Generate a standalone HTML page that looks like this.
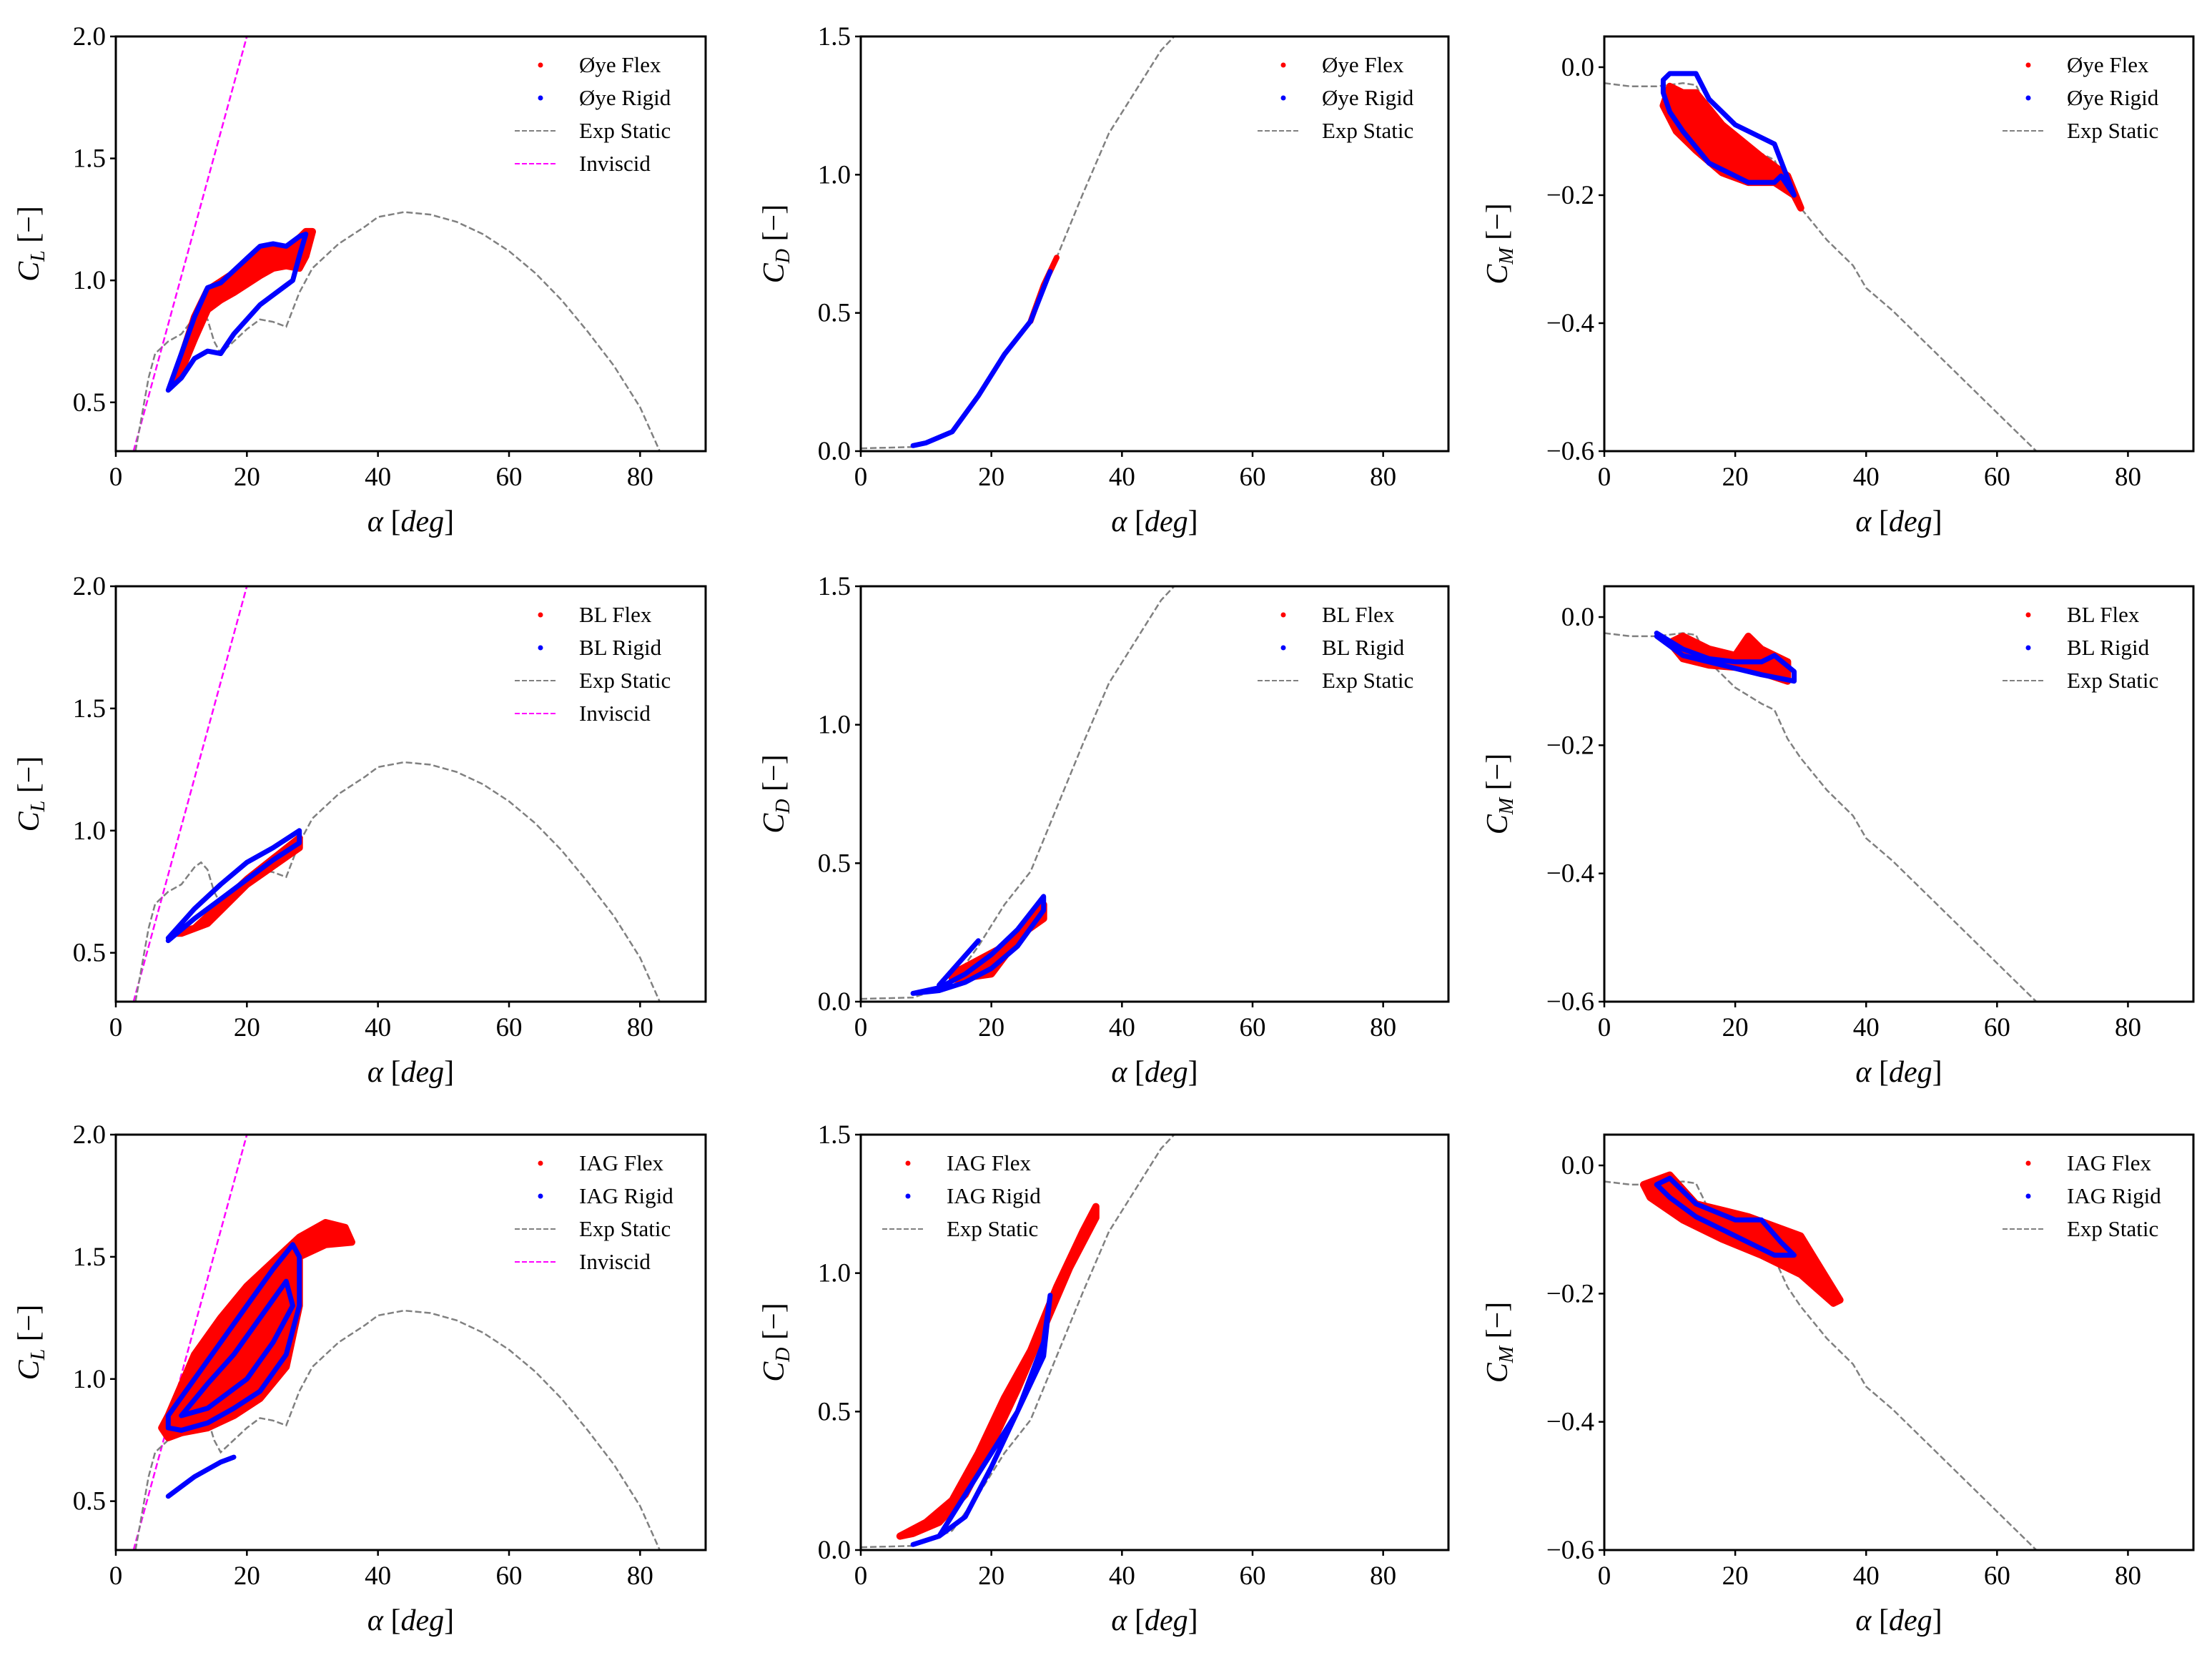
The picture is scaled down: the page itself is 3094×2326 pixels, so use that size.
<!DOCTYPE html>
<html><head><meta charset="utf-8">
<style>
html,body{margin:0;padding:0;background:#fff;}
svg{display:block;}
text{font-family:"Liberation Serif","DejaVu Serif",serif;fill:#000;}
</style></head>
<body>
<svg id="fig" xmlns="http://www.w3.org/2000/svg" width="3094" height="2326" viewBox="0 0 3094 2326"></svg>
<script>
// ---------- data ----------
const staticClA=[3,5,6,8,10,12,13,14,15,16,18,20,22,24,26,28,30,34,38,40,44,48,52,56,60,64,68,72,76,80,83];
const staticClV=[0.3,0.6,0.7,0.75,0.78,0.85,0.87,0.84,0.75,0.7,0.75,0.8,0.84,0.83,0.81,0.95,1.05,1.15,1.22,1.26,1.28,1.27,1.24,1.19,1.12,1.03,0.92,0.79,0.65,0.48,0.3];
const invA=[2.7,20];
const invV=[0.3,2.0];
const staticCdA=[0,8,10,14,18,22,26,30,34,38,42,46,48];
const staticCdV=[0.01,0.015,0.03,0.07,0.2,0.35,0.47,0.7,0.93,1.15,1.3,1.45,1.5];
const staticCmA=[0,4,8,12,14,16,20,24,26,28,30,34,38,40,44,50,56,62,66];
const staticCmV=[-0.025,-0.03,-0.03,-0.025,-0.028,-0.07,-0.11,-0.135,-0.145,-0.19,-0.22,-0.27,-0.31,-0.345,-0.38,-0.44,-0.5,-0.56,-0.6];

const oyeClFlexA=[9,12,14,18,22,26,29,30,29,28,26,24,22,18,16,14,12,10];
const oyeClFlexV=[0.6,0.85,0.96,1.03,1.13,1.12,1.2,1.2,1.1,1.05,1.06,1.05,1.02,0.95,0.92,0.88,0.76,0.63];
const oyeClRigA=[8,10,12,14,16,18,20,22,24,26,28,29,28,27,26,22,18,16,14,12,10,8];
const oyeClRigV=[0.55,0.7,0.85,0.97,0.99,1.04,1.09,1.14,1.15,1.14,1.18,1.19,1.1,1.0,0.98,0.9,0.78,0.7,0.71,0.68,0.6,0.55];
const oyeCdFlexA=[26,28,30];
const oyeCdFlexV=[0.47,0.6,0.7];
const oyeCdRigA=[8,10,14,18,22,26,29];
const oyeCdRigV=[0.02,0.03,0.07,0.2,0.35,0.47,0.65];
const oyeCmFlexA=[10,12,14,18,24,28,30,29,26,22,18,14,11,9];
const oyeCmFlexV=[-0.03,-0.04,-0.04,-0.09,-0.14,-0.17,-0.22,-0.2,-0.18,-0.18,-0.165,-0.13,-0.1,-0.06];
const oyeCmRigA=[9,10,12,14,16,20,26,29,27,26,22,20,16,12,10,9,9];
const oyeCmRigV=[-0.02,-0.01,-0.01,-0.01,-0.05,-0.09,-0.12,-0.2,-0.17,-0.18,-0.18,-0.17,-0.15,-0.1,-0.07,-0.04,-0.02];

const blClFlexA=[9,12,16,20,28,28,20,14,10];
const blClFlexV=[0.58,0.6,0.7,0.8,0.97,0.93,0.78,0.62,0.58];
const blClRigA=[8,12,16,20,24,28,28,24,20,16,12,8];
const blClRigV=[0.56,0.68,0.78,0.87,0.93,1.0,0.95,0.88,0.8,0.72,0.64,0.55];
const blCdFlexA=[14,20,28,28,22,18,14];
const blCdFlexV=[0.08,0.1,0.35,0.3,0.2,0.15,0.1];
const blCdRigA=[8,12,16,20,24,28,28,24,20,16,12,8];
const blCdRigV=[0.03,0.05,0.1,0.17,0.26,0.38,0.33,0.2,0.12,0.07,0.04,0.03];
const blCdRig2A=[12,18];
const blCdRig2V=[0.06,0.22];
const blCmFlexA=[10,12,16,20,22,24,28,28,22,16,12];
const blCmFlexV=[-0.04,-0.03,-0.05,-0.06,-0.03,-0.05,-0.07,-0.1,-0.08,-0.075,-0.065];
const blCmRigA=[8,12,16,20,24,26,29,29,24,20,16,12,8];
const blCmRigV=[-0.025,-0.05,-0.065,-0.07,-0.07,-0.06,-0.085,-0.1,-0.09,-0.08,-0.07,-0.06,-0.03];

const iagClFlexA=[7,8,12,16,20,24,28,32,35,36,32,28,28,26,22,18,14,10,8];
const iagClFlexV=[0.8,0.85,1.1,1.25,1.38,1.48,1.58,1.64,1.62,1.56,1.55,1.5,1.3,1.05,0.92,0.85,0.8,0.78,0.76];
const iagClRigA=[8,12,16,20,24,27,28,28,26,22,18,14,10,8,8];
const iagClRigV=[0.85,1.0,1.15,1.3,1.45,1.55,1.5,1.3,1.1,0.95,0.88,0.82,0.79,0.8,0.85];
const iagClRig2A=[10,14,18,22,26,27,24,20,14,10];
const iagClRig2V=[0.85,0.98,1.1,1.25,1.4,1.3,1.15,1.0,0.88,0.85];
const iagClRig3A=[8,12,16,18];
const iagClRig3V=[0.52,0.6,0.66,0.68];
const iagCdFlexA=[6,10,14,18,22,26,30,34,36,36,32,28,24,20,16,12,8];
const iagCdFlexV=[0.05,0.1,0.18,0.35,0.55,0.72,0.95,1.15,1.24,1.2,1.02,0.8,0.58,0.38,0.2,0.1,0.06];
const iagCdRigA=[8,12,16,20,24,28,29,28,24,20,16,12,8];
const iagCdRigV=[0.02,0.05,0.2,0.35,0.5,0.75,0.92,0.7,0.5,0.3,0.12,0.05,0.02];
const iagCmFlexA=[6,10,14,22,30,33,36,35,30,24,18,12,7];
const iagCmFlexV=[-0.03,-0.015,-0.06,-0.08,-0.11,-0.16,-0.21,-0.215,-0.17,-0.14,-0.115,-0.085,-0.05];
const iagCmRigA=[8,10,14,20,24,27,29,26,20,14,10,8];
const iagCmRigV=[-0.03,-0.02,-0.06,-0.085,-0.085,-0.12,-0.14,-0.14,-0.11,-0.08,-0.05,-0.03];

const xTicks=[0,20,40,60,80];
const clTicks=[0.5,1.0,1.5,2.0];
const cdTicks=[0.0,0.5,1.0,1.5];
const cmTicks=[0.0,-0.2,-0.4,-0.6];

// ---------- drawing ----------
const NS='http://www.w3.org/2000/svg';
const svg=document.getElementById('fig');
function mk(tag,attrs,parent){const e=document.createElementNS(NS,tag);for(const k in attrs)e.setAttribute(k,attrs[k]);(parent||svg).appendChild(e);return e;}

const colX=[[162,987],[1204,2026],[2244,3068]];
const rowY=[[51,631],[820,1401],[1587,2168]];
const yDomains={cl:[0.3,2.0],cd:[0,1.5],cm:[-0.6,0.048]};
const yTickSets={cl:clTicks,cd:cdTicks,cm:cmTicks};
const yLab={cl:'L',cd:'D',cm:'M'};

function fmt(v){const s=Math.abs(v).toFixed(1);return (v<0?'\u2212':'')+s;}

function panel(r,c,kind,series,legend,legendLeft){
  const [x0,x1]=colX[c],[y0,y1]=rowY[r];
  const [d0,d1]=yDomains[kind];
  const X=a=>x0+(a-0)/(90-0)*(x1-x0);
  const Y=v=>y1-(v-d0)/(d1-d0)*(y1-y0);
  const g=mk('g',{});
  
  
  const cid='clip'+r+c;
  const cp=mk('clipPath',{id:cid},g);mk('rect',{x:x0,y:y0,width:x1-x0,height:y1-y0},cp);
  const plot=mk('g',{'clip-path':'url(#'+cid+')'},g);
  series.forEach(s=>{
    const pts=s.a.map((a,i)=>X(a).toFixed(1)+','+Y(s.v[i]).toFixed(1)).join(' ');
    let e;
    if(s.type==='fill'){e=mk('polygon',{points:pts,fill:'#ff0000',stroke:'#ff0000','stroke-width':10,'stroke-linejoin':'round'},plot);}
    else if(s.type==='loop'){e=mk('polyline',{points:pts,fill:'none',stroke:'#0000ff','stroke-width':7,'stroke-linejoin':'round','stroke-linecap':'round'},plot);}
    else if(s.type==='redline'){e=mk('polyline',{points:pts,fill:'none',stroke:'#ff0000','stroke-width':8,'stroke-linejoin':'round','stroke-linecap':'round'},plot);}
    else if(s.type==='static'){e=mk('polyline',{points:pts,fill:'none',stroke:'#808080','stroke-width':2.5,'stroke-dasharray':'9,4'},plot);}
    else {e=mk('polyline',{points:pts,fill:'none',stroke:'#ff00ff','stroke-width':2.5,'stroke-dasharray':'9,4'},plot);}
    
    
  });
  const fr=mk('rect',{x:x0,y:y0,width:x1-x0,height:y1-y0,fill:'none',stroke:'#000','stroke-width':3},g);
  
  
  xTicks.forEach(t=>{
    mk('line',{x1:X(t),x2:X(t),y1:y1,y2:y1+8,stroke:'#000','stroke-width':2.5},g);
    const tx=mk('text',{x:X(t),y:y1+48,'text-anchor':'middle','font-size':37},g);tx.textContent=t;
    
    
  });
  yTickSets[kind].forEach(t=>{
    mk('line',{x1:x0-8,x2:x0,y1:Y(t),y2:Y(t),stroke:'#000','stroke-width':2.5},g);
    const tx=mk('text',{x:x0-14,y:Y(t)+12,'text-anchor':'end','font-size':37},g);tx.textContent=fmt(t);
    
    
  });
  const xl=mk('text',{x:(x0+x1)/2,y:y1+112,'text-anchor':'middle','font-size':42},g);
  xl.innerHTML='<tspan font-style="italic">α</tspan> [<tspan font-style="italic">deg</tspan>]';
  
  
  const yc=(y0+y1)/2, yx=x0-(kind==='cm'?150:122)+14;
  const yl=mk('text',{x:yx,y:yc,'text-anchor':'middle','font-size':42,transform:'rotate(-90 '+yx+' '+yc+')'},g);
  yl.innerHTML='<tspan font-style="italic">C</tspan><tspan font-style="italic" font-size="28" dy="8">'+yLab[kind]+'</tspan><tspan dy="-8"> [−]</tspan>';
  
  
  // legend
  const lx=legendLeft?x0+30:x1-267, ly=y0+50;
  legend.forEach((L,i)=>{
    const yy=ly+i*46;
    const lg=mk('g',{},g);
    
    
    if(L.kind==='dot'){mk('circle',{cx:lx+36,cy:yy-10,r:3.5,fill:L.color},lg);}
    else{mk('line',{x1:lx,x2:lx+58,y1:yy-10,y2:yy-10,stroke:L.color,'stroke-width':2,'stroke-dasharray':'7,3'},lg);}
    const t=mk('text',{x:lx+90,y:yy,'font-size':31},lg);t.textContent=L.label;
  });
}
function S(name,type,a,v){return {name,type,a,v};}
const st=(k)=>k==='cl'?S('exp-static-line','static',staticClA,staticClV):k==='cd'?S('exp-static-line','static',staticCdA,staticCdV):S('exp-static-line','static',staticCmA,staticCmV);
function leg(p,withInv){const l=[{kind:'dot',color:'#ff0000',label:p+' Flex'},{kind:'dot',color:'#0000ff',label:p+' Rigid'},{kind:'line',color:'#808080',label:'Exp Static'}];if(withInv)l.push({kind:'line',color:'#ff00ff',label:'Inviscid'});return l;}

panel(0,0,'cl',[S('inviscid-line','inv',invA,invV),st('cl'),S('oye-flex-cl','fill',oyeClFlexA,oyeClFlexV),S('oye-rigid-cl','loop',oyeClRigA,oyeClRigV)],leg('Øye',true));
panel(0,1,'cd',[st('cd'),S('oye-flex-cd','redline',oyeCdFlexA,oyeCdFlexV),S('oye-rigid-cd','loop',oyeCdRigA,oyeCdRigV)],leg('Øye',false));
panel(0,2,'cm',[st('cm'),S('oye-flex-cm','fill',oyeCmFlexA,oyeCmFlexV),S('oye-rigid-cm','loop',oyeCmRigA,oyeCmRigV)],leg('Øye',false));
panel(1,0,'cl',[S('inviscid-line','inv',invA,invV),st('cl'),S('bl-flex-cl','fill',blClFlexA,blClFlexV),S('bl-rigid-cl','loop',blClRigA,blClRigV)],leg('BL',true));
panel(1,1,'cd',[st('cd'),S('bl-flex-cd','fill',blCdFlexA,blCdFlexV),S('bl-rigid-cd','loop',blCdRigA,blCdRigV),S('bl-rigid-cd-branch','loop',blCdRig2A,blCdRig2V)],leg('BL',false));
panel(1,2,'cm',[st('cm'),S('bl-flex-cm','fill',blCmFlexA,blCmFlexV),S('bl-rigid-cm','loop',blCmRigA,blCmRigV)],leg('BL',false));
panel(2,0,'cl',[S('inviscid-line','inv',invA,invV),st('cl'),S('iag-flex-cl','fill',iagClFlexA,iagClFlexV),S('iag-rigid-cl','loop',iagClRigA,iagClRigV),S('iag-rigid-cl-inner','loop',iagClRig2A,iagClRig2V),S('iag-rigid-cl-tail','loop',iagClRig3A,iagClRig3V)],leg('IAG',true));
panel(2,1,'cd',[st('cd'),S('iag-flex-cd','fill',iagCdFlexA,iagCdFlexV),S('iag-rigid-cd','loop',iagCdRigA,iagCdRigV)],leg('IAG',false),true);
panel(2,2,'cm',[st('cm'),S('iag-flex-cm','fill',iagCmFlexA,iagCmFlexV),S('iag-rigid-cm','loop',iagCmRigA,iagCmRigV)],leg('IAG',false));
</script>
</body></html>
